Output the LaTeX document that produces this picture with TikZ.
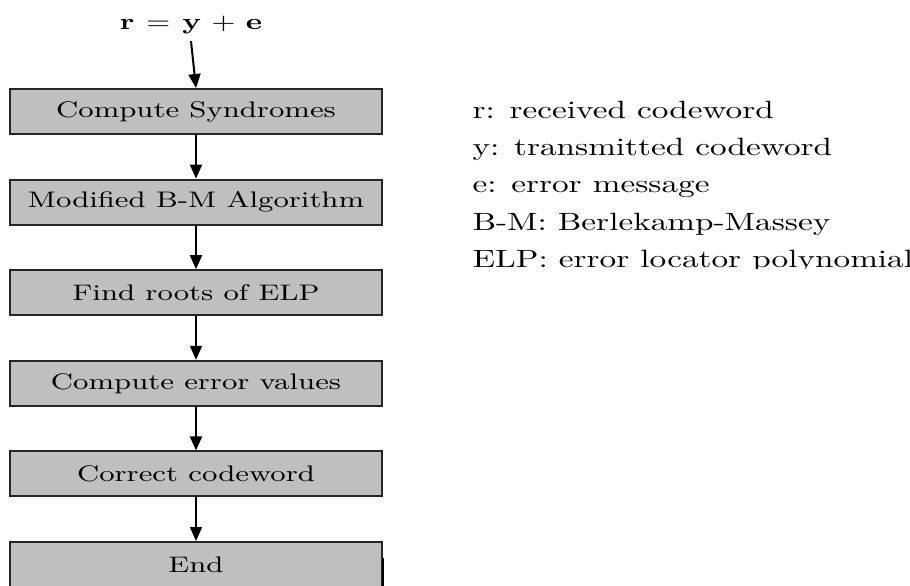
\documentclass[tikz,border=0pt]{standalone}
\usepackage{graphicx}
\usetikzlibrary{positioning, arrows.meta}
\newcommand{\wide}[1]{\scalebox{1.33}[1]{#1}}
\tikzset{
    stage/.style = {draw=black!85, fill=black!25, line width=0.8pt, minimum width=148.8pt, minimum height=18pt, inner sep=0pt, font=\fontsize{9}{11}\selectfont},
    flow/.style = {draw, line width=0.8pt, -{Triangle[length=5.6pt, width=4.8pt]}},
    legend/.style = {anchor=base west, inner sep=0pt, font=\fontsize{10}{12}\selectfont},
}
\begin{document}
\begin{tikzpicture}[x=0.4pt, y=-0.4pt]
            \useasboundingbox (0, 0) rectangle (910, 585);
            \clip (0, 0) rectangle (910, 585);

            \node[anchor=base, inner sep=2.5pt, font=\fontsize{9}{11}\selectfont] (rcv) at (191, 30)
                {\wide{$\mathbf{r} \mskip2mu = \mskip2mu \mathbf{y} \mskip2mu + \mskip2mu \mathbf{e}$}};
            \node[stage] (syn) at (196, 111.5) {\wide{Compute Syndromes}};
            \node[stage] (bm) at (196, 202.1) {\wide{Modified B-M Algorithm}};
            \node[stage] (roots) at (196, 292.7) {\wide{Find roots of ELP}};
            \node[stage] (vals) at (196, 383.3) {\wide{Compute error values}};
            \node[stage] (fix) at (196, 473.9) {\wide{Correct codeword}};
            \node[stage] (end) at (196, 564.5) {\wide{End}};

            \draw[flow] (rcv.south) -- (syn.north);
            \draw[flow] (syn) -- (bm);
            \draw[flow] (bm) -- (roots);
            \draw[flow] (roots) -- (vals);
            \draw[flow] (vals) -- (fix);
            \draw[flow] (fix) -- (end);
            \draw[line width=0.5pt] (383, 558) -- (383, 590);

            % legend, cut off under the last line
            \begin{scope}
                \clip (460, 80) rectangle (910, 268);
                \node[legend] (lr) at (472, 119) {\wide{r: received codeword}};
                \node[legend] (ly) at (472, 156) {\wide{y: transmitted codeword}};
                \node[legend] (le) at (472, 193) {\wide{e: error message}};
                \node[legend] (lbm) at (472, 230) {\wide{B-M: Berlekamp-Massey}};
                \node[legend] (lelp) at (472, 267) {\wide{ELP: error locator polynomial}};
            \end{scope}
        \end{tikzpicture}
\end{document}
